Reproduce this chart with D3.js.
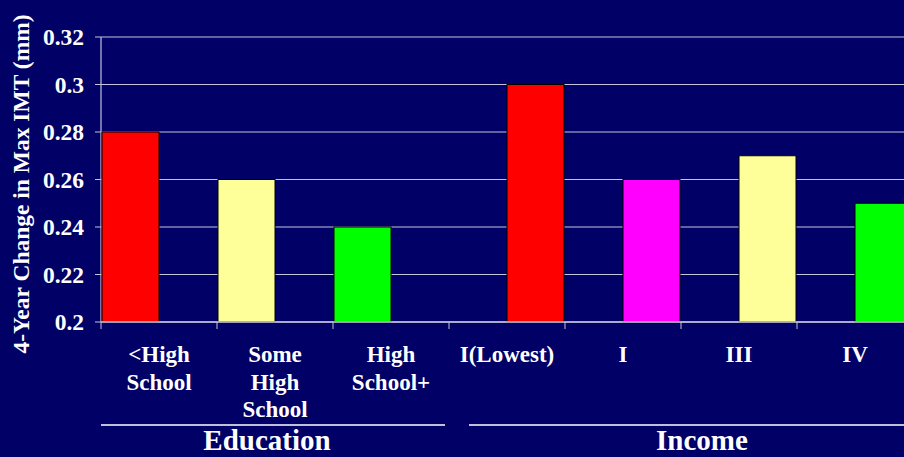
<!DOCTYPE html>
<html>
<head>
<meta charset="utf-8">
<script src="https://cdn.jsdelivr.net/npm/d3@7"></script>
<style>
  html, body { margin: 0; padding: 0; background: #000066; overflow: hidden; }
  text { font-family: 'Liberation Serif', 'Times New Roman', Times, 'DejaVu Serif', serif; font-weight: bold; }
</style>
</head>
<body>
<svg id="chart"></svg>
<script>
// categories along the x axis (label lines as shown)
var categories = ['<High School', 'Some High School', 'High School+', 'I(Lowest)', 'I', 'III', 'IV'];
var categoryLines = [['<High', 'School'], ['Some', 'High', 'School'], ['High', 'School+'], ['I(Lowest)'], ['I'], ['III'], ['IV']];
var seriesNames = ['Education', 'Income'];
var educationValues = [0.28, 0.26, 0.24, null, null, null, null];
var incomeValues = [null, null, null, 0.30, 0.26, 0.27, 0.25];
var barColors = ['#ff0000', '#ffff99', '#00ff00', '#ff0000', '#ff00ff', '#ffff99', '#00ff00'];
var yTicks = [0.2, 0.22, 0.24, 0.26, 0.28, 0.3, 0.32];
var groups = [
  {name: 'Education', first: 0, last: 2},
  {name: 'Income', first: 3, last: 6}
];

var width = 904, height = 457;
var margin = {top: 37, left: 101, bottom: 135};
var plotRight = 913;

var svg = d3.select('#chart').attr('width', width).attr('height', height).style('display', 'block');

svg.append('rect').attr('width', width).attr('height', height).attr('fill', '#000066');

var x = d3.scaleBand().domain(categories).range([margin.left, plotRight]).padding(0);
var xs = d3.scaleBand().domain(seriesNames).range([1, x.bandwidth() - 1]).padding(0);
var y = d3.scaleLinear().domain([0.2, 0.32]).range([height - margin.bottom, margin.top]);

var gridColor = '#c4c4dc';

// gridlines + left ticks
svg.append('g').selectAll('line')
  .data(yTicks)
  .enter().append('line')
  .attr('x1', margin.left - 6)
  .attr('x2', plotRight)
  .attr('y1', function(d) { return y(d); })
  .attr('y2', function(d) { return y(d); })
  .attr('stroke', gridColor)
  .attr('stroke-width', 1.2);

// y axis labels
svg.append('g').selectAll('text')
  .data(yTicks)
  .enter().append('text')
  .attr('x', 84)
  .attr('y', function(d) { return y(d); })
  .attr('dy', '0.36em')
  .attr('text-anchor', 'end')
  .attr('fill', '#ffffff')
  .style('font-size', '23.5px')
  .text(function(d) { return d3.format('~g')(d); });

// y axis line
svg.append('line')
  .attr('x1', margin.left).attr('x2', margin.left)
  .attr('y1', y(0.32)).attr('y2', y(0.2))
  .attr('stroke', gridColor).attr('stroke-width', 1.2);

// bars
var barData = [];
categories.forEach(function(c, i) {
  if (educationValues[i] !== null) barData.push({cat: c, series: 'Education', value: educationValues[i], color: barColors[i]});
  if (incomeValues[i] !== null) barData.push({cat: c, series: 'Income', value: incomeValues[i], color: barColors[i]});
});

svg.append('g').selectAll('rect')
  .data(barData)
  .enter().append('rect')
  .attr('x', function(d) { return x(d.cat) + xs(d.series); })
  .attr('y', function(d) { return y(d.value); })
  .attr('width', xs.bandwidth())
  .attr('height', function(d) { return y(0.2) - y(d.value); })
  .attr('fill', function(d) { return d.color; })
  .attr('stroke', '#000000')
  .attr('stroke-width', 1);

// x axis line and ticks
svg.append('line')
  .attr('x1', margin.left).attr('x2', plotRight)
  .attr('y1', y(0.2)).attr('y2', y(0.2))
  .attr('stroke', gridColor).attr('stroke-width', 1.5);

svg.append('g').selectAll('line')
  .data(categories)
  .enter().append('line')
  .attr('x1', function(d) { return x(d); })
  .attr('x2', function(d) { return x(d); })
  .attr('y1', y(0.2))
  .attr('y2', y(0.2) + 7)
  .attr('stroke', gridColor);

// category labels
var catLabel = svg.append('g').selectAll('text')
  .data(categories)
  .enter().append('text')
  .attr('text-anchor', 'middle')
  .attr('fill', '#ffffff')
  .style('font-size', '23px');

catLabel.selectAll('tspan')
  .data(function(d, i) { return categoryLines[i].map(function(l) { return {line: l, cat: d}; }); })
  .enter().append('tspan')
  .attr('x', function(d) { return x(d.cat) + x.bandwidth() / 2; })
  .attr('y', function(d, j) { return 362 + j * 27.5; })
  .text(function(d) { return d.line; });

// group lines and labels
var groupInset = [[0, -4], [20, 22]];
var labelShift = [-6, 0];
groups.forEach(function(g, i) {
  var x0 = x(categories[g.first]) + groupInset[i][0];
  var x1 = x(categories[g.last]) + x.bandwidth() + groupInset[i][1];
  svg.append('line')
    .attr('x1', x0).attr('x2', x1)
    .attr('y1', 425).attr('y2', 425)
    .attr('stroke', '#ffffff').attr('stroke-width', 1.5);
  svg.append('text')
    .attr('x', (x0 + x1) / 2 + labelShift[i])
    .attr('y', 450)
    .attr('text-anchor', 'middle')
    .attr('fill', '#ffffff')
    .style('font-size', '29px')
    .text(g.name);
});

// y axis title
svg.append('text')
  .attr('transform', 'translate(29,' + 184 + ') rotate(-90)')
  .attr('text-anchor', 'middle')
  .attr('fill', '#ffffff')
  .style('font-size', '23.5px')
  .text('4-Year Change in Max IMT (mm)');
</script>
</body>
</html>
